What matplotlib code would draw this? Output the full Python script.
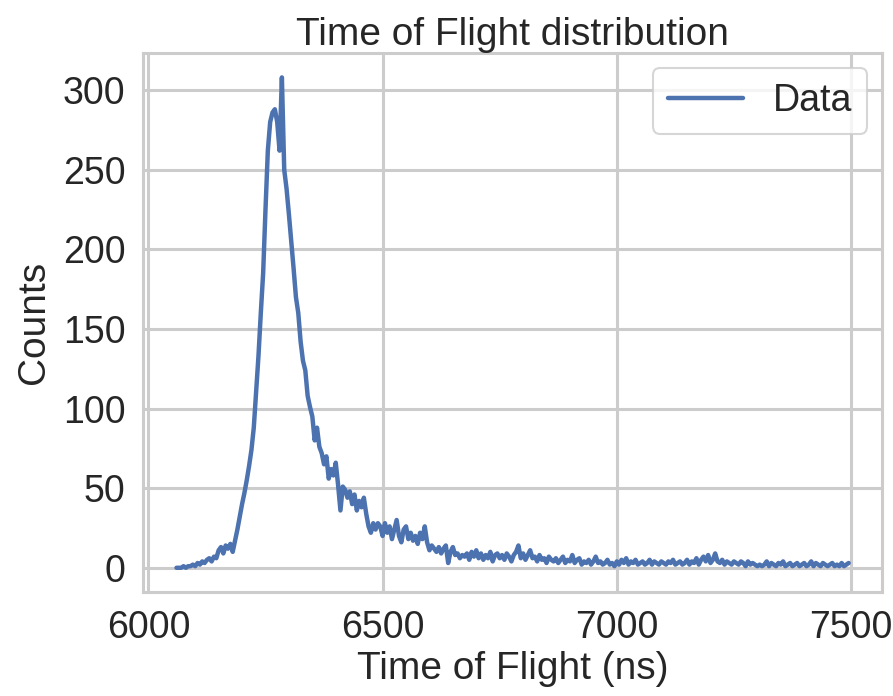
import numpy as np
import matplotlib.pyplot as plt
import seaborn as sns

sns.set_theme(style='whitegrid', context='talk')
plt.rcParams['font.family'] = ['Liberation Sans', 'DejaVu Sans']

# conteggi per bin da 5 ns, a partire da 6060 ns
t_start = 6060
bin_width = 5
counts = [
    0, 0, 0, 1, 0, 1, 1, 2, 1, 3, 2, 4, 3, 5, 6, 4, 7, 6, 11, 13,
    9, 14, 12, 15, 10, 17, 24, 32, 40, 47, 55, 64, 74, 88, 110, 133, 160, 185, 225, 262,
    280, 286, 288, 280, 262, 308, 250, 238, 222, 205, 188, 170, 160, 142, 130, 124, 108, 101, 95, 80,
    88, 76, 72, 65, 70, 56, 62, 58, 66, 52, 36, 51, 49, 44, 48, 40, 46, 36, 42, 38,
    44, 34, 26, 22, 28, 24, 28, 26, 20, 28, 22, 26, 18, 24, 30, 20, 16, 24, 26, 18,
    22, 17, 20, 15, 22, 18, 26, 16, 11, 14, 12, 10, 13, 9, 12, 14, 3, 10, 13, 8,
    9, 6, 8, 7, 9, 5, 10, 7, 11, 6, 9, 5, 8, 6, 10, 4, 8, 9, 6, 8,
    5, 9, 7, 4, 8, 10, 14, 6, 9, 5, 8, 11, 6, 7, 4, 8, 5, 6, 3, 7,
    5, 4, 6, 3, 5, 7, 3, 5, 4, 8, 3, 5, 6, 2, 4, 3, 5, 2, 4, 7,
    3, 4, 2, 3, 5, 2, 3, 1, 4, 2, 5, 3, 6, 2, 4, 3, 5, 2, 3, 4,
    2, 3, 5, 2, 4, 3, 2, 4, 3, 2, 4, 3, 5, 2, 3, 4, 2, 3, 5, 2,
    4, 3, 6, 2, 5, 7, 4, 8, 3, 5, 9, 4, 3, 5, 2, 4, 3, 2, 4, 3,
    2, 4, 3, 1, 4, 2, 3, 2, 1, 2, 1, 2, 4, 1, 3, 2, 1, 3, 2, 4,
    1, 2, 3, 1, 2, 3, 1, 2, 3, 1, 2, 4, 1, 3, 2, 1, 3, 2, 1, 2,
    3, 1, 2, 1, 3, 1, 2, 3,
]

tof = t_start + bin_width * np.arange(len(counts))

fig = plt.figure(figsize=(8.93, 6.96), dpi=100)
ax = fig.add_axes([0.160, 0.149, 0.828, 0.775])

ax.plot(tof, counts, color='#4C72B0', lw=3.2, label='Data')
ax.set_xlabel('Time of Flight (ns)', fontsize=28, labelpad=4)
ax.set_ylabel('Counts', fontsize=28, labelpad=8)
ax.set_title('Time of Flight distribution', fontsize=28, pad=6)
ax.tick_params(labelsize=27)
ax.set_xticks([6000, 6500, 7000, 7500])
ax.grid(lw=2.2, color='#cccccc')
for s in ax.spines.values():
    s.set_linewidth(2.2)
    s.set_color('#cccccc')
ax.legend(fontsize=27, loc='upper right', borderaxespad=0.4)

fig.savefig('out.png', dpi=100)
